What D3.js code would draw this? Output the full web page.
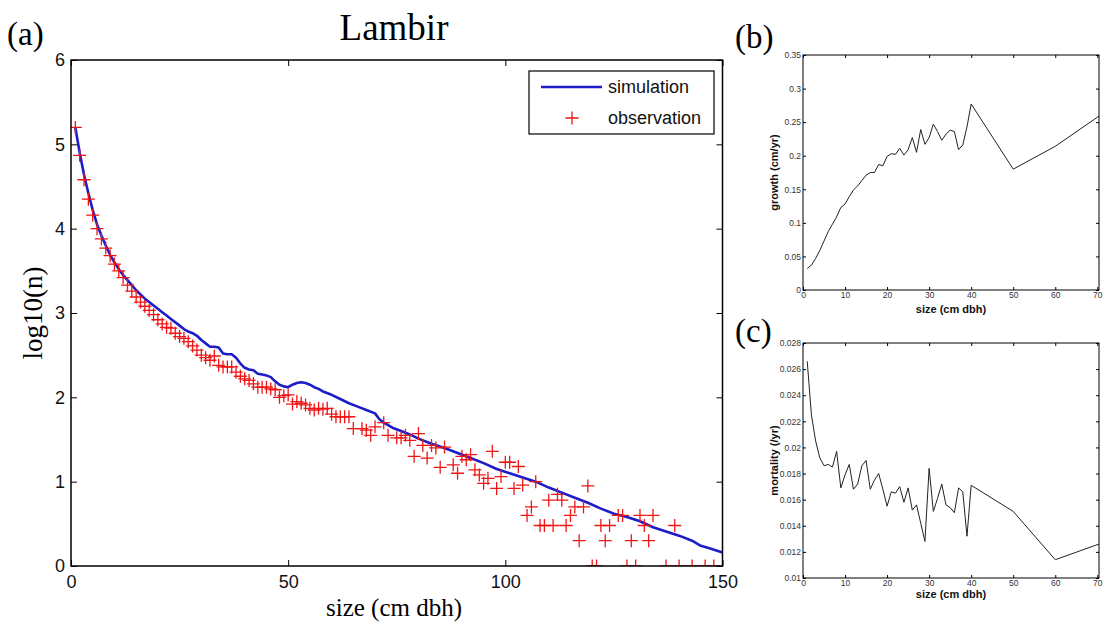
<!DOCTYPE html>
<html><head><meta charset="utf-8">
<script src="https://cdn.jsdelivr.net/npm/d3@7"></script>
<style>body{margin:0;background:#fff} svg{display:block}</style>
</head><body><svg id="c" width="1104" height="624"></svg>
<script>
// ---------- Panel (a) data ----------
const simSize = [1,2,3,4,5,6,7,8,9,10,11,12,13,14,15,16,17,18,19,20,21,22,23,24,25,26,27,28,29,30,31,32,33,34,35,36,37,38,39,40,41,42,43,44,45,46,47,48,49,50,51,52,53,54,55,56,57,58,60,62,64,66,68,70,71,72,74,76,78,80,83,86,89,92,95,98,101,104,107,110,113,116,119,122,125,128,131,134,137,140,143,145,147,150];
const simLog = [5.20,4.90,4.64,4.42,4.22,4.05,3.92,3.80,3.69,3.60,3.52,3.45,3.39,3.33,3.27,3.22,3.17,3.13,3.09,3.05,3.01,2.97,2.93,2.89,2.85,2.81,2.78,2.76,2.73,2.68,2.64,2.60,2.60,2.59,2.52,2.51,2.51,2.47,2.40,2.35,2.33,2.32,2.28,2.27,2.26,2.24,2.19,2.15,2.13,2.12,2.15,2.17,2.18,2.17,2.15,2.12,2.10,2.07,2.03,1.98,1.93,1.89,1.85,1.81,1.74,1.70,1.64,1.60,1.56,1.51,1.45,1.40,1.34,1.28,1.22,1.15,1.10,1.05,1.00,0.93,0.87,0.81,0.75,0.68,0.62,0.58,0.53,0.46,0.41,0.36,0.30,0.24,0.21,0.16];

const obsSize = [1,2,3,4,5,6,7,8,9,10,11,12,13,14,15,16,17,18,19,20,21,22,23,24,25,26,27,28,29,30,31,32,33,34,35,36,37,38,39,40,41,42,43,44,45,46,47,48,49,50,51,52,53,54,55,56,57,58,59,60,61,62,63,64,65,67,68,69,70,72,73,75,76,77,78,79,80,81,82,83,84,85,86,88,89,90,91,92,93,94,95,96,97,98,99,100,101,102,103,104,105,106,107,108,109,110,111,112,113,114,115,116,117,118,119,120,121,122,123,124,126,127,128,129,130,131,132,133,134,137,139,140,143,146,148];
const obsLog = [5.20,4.87,4.58,4.35,4.16,4.00,3.88,3.77,3.68,3.58,3.50,3.42,3.33,3.26,3.19,3.13,3.08,3.03,2.98,2.92,2.87,2.83,2.82,2.76,2.72,2.70,2.66,2.61,2.56,2.50,2.47,2.44,2.49,2.38,2.36,2.36,2.36,2.30,2.25,2.22,2.20,2.16,2.12,2.12,2.12,2.10,2.09,2.00,2.02,2.03,1.92,1.95,1.93,1.91,1.87,1.85,1.87,1.86,1.87,1.80,1.77,1.77,1.77,1.77,1.63,1.63,1.61,1.55,1.65,1.70,1.55,1.52,1.52,1.55,1.49,1.30,1.57,1.43,1.28,1.43,1.40,1.17,1.41,1.20,1.10,1.30,1.26,1.32,1.14,1.08,0.98,1.04,1.36,0.92,1.06,1.23,1.23,0.92,1.18,0.96,0.60,0.70,1.00,0.48,0.48,0.78,0.48,0.85,0.78,0.48,0.60,0.70,0.30,0.70,0.95,0,0,0.48,0.30,0.48,0.60,0.60,0,0.30,0,0.60,0.48,0.30,0.60,0,0.48,0,0,0,0];

const aXTicks = [0,50,100,150];
const aYTicks = [0,1,2,3,4,5,6];
const legendLabels = ["simulation","observation"];

// ---------- Panels (b), (c) data ----------
const dbh = [1,2,3,4,5,6,7,8,9,10,11,12,13,14,15,16,17,18,19,20,21,22,23,24,25,26,27,28,29,30,31,32,33,34,35,36,37,38,39,40,50,60,70.4];
const growth = [0.032,0.037,0.047,0.059,0.073,0.087,0.098,0.109,0.123,0.128,0.139,0.149,0.155,0.163,0.171,0.175,0.175,0.187,0.185,0.199,0.203,0.202,0.211,0.201,0.209,0.227,0.205,0.239,0.217,0.227,0.247,0.236,0.223,0.232,0.238,0.236,0.209,0.216,0.243,0.277,0.180,0.214,0.259];
const mortality = [0.0266,0.0225,0.0205,0.0192,0.0186,0.0187,0.0185,0.0197,0.0169,0.0179,0.0187,0.0168,0.0172,0.0186,0.0190,0.0168,0.0175,0.0180,0.0168,0.0155,0.0166,0.0165,0.0170,0.0158,0.0169,0.0152,0.0156,0.0142,0.0128,0.0184,0.0151,0.0161,0.0172,0.0156,0.0154,0.0150,0.0169,0.0166,0.0132,0.0171,0.0151,0.0114,0.0126];
const bcXTicks = [0,10,20,30,40,50,60,70];
const growthTicks = [0,0.05,0.1,0.15,0.2,0.25,0.3,0.35];
const mortTicks = [0.01,0.012,0.014,0.016,0.018,0.02,0.022,0.024,0.026,0.028];

const svg = d3.select("#c");
const SANS = "'Liberation Sans', Arial, sans-serif";
const SERIF = "'Liberation Serif', 'Times New Roman', serif";

function styleAxis(g, size, color) {
  g.select(".domain").remove();
  g.selectAll(".tick line").attr("stroke", "#000");
  g.selectAll(".tick text").attr("font-family", SANS).attr("font-size", size).attr("fill", color);
}

// ================= Panel (a) =================
const A = {l: 71, r: 722.5, t: 60, b: 566};
const xa = d3.scaleLinear().domain([0,150]).range([A.l, A.r]);
const ya = d3.scaleLinear().domain([0,6]).range([A.b, A.t]);
const intFmt = d3.format("d");

svg.append("defs").append("clipPath").attr("id","clipA")
  .append("rect").attr("x",A.l).attr("y",A.t).attr("width",A.r-A.l).attr("height",A.b-A.t);

svg.append("g").attr("transform",`translate(0,${A.b})`)
  .call(d3.axisBottom(xa).tickValues(aXTicks).tickSize(-6).tickPadding(9).tickFormat(intFmt))
  .call(g => styleAxis(g, 18, "#111"));
svg.append("g").attr("transform",`translate(0,${A.t})`)
  .call(d3.axisTop(xa).tickValues(aXTicks).tickSize(-6).tickFormat(""))
  .call(g => styleAxis(g, 18, "#111"));
svg.append("g").attr("transform",`translate(${A.l},0)`)
  .call(d3.axisLeft(ya).tickValues(aYTicks).tickSize(-6).tickPadding(6).tickFormat(intFmt))
  .call(g => styleAxis(g, 18, "#111"));
svg.append("g").attr("transform",`translate(${A.r},0)`)
  .call(d3.axisRight(ya).tickValues(aYTicks).tickSize(-6).tickFormat(""))
  .call(g => styleAxis(g, 18, "#111"));

const plotA = svg.append("g").attr("clip-path","url(#clipA)");
const simData = simSize.map((s,i)=>[s, simLog[i]]);
plotA.append("path").datum(simData)
  .attr("fill","none").attr("stroke","#1c1cc8").attr("stroke-width",2.6)
  .attr("stroke-linejoin","round")
  .attr("d", d3.line().x(d=>xa(d[0])).y(d=>ya(d[1])));

const cross = "M-6.5,0H6.5M0,-6.5V6.5";
plotA.selectAll("path.obs").data(obsSize.map((s,i)=>[s, obsLog[i]]))
  .join("path").attr("class","obs")
  .attr("transform", d=>`translate(${xa(d[0])},${ya(d[1])})`)
  .attr("d", cross).attr("stroke","#f01414").attr("stroke-width",1.3).attr("fill","none");

svg.append("rect").attr("x",A.l).attr("y",A.t).attr("width",A.r-A.l).attr("height",A.b-A.t)
  .attr("fill","none").attr("stroke","#000").attr("stroke-width",1.5);

// legend
const lg = svg.append("g");
lg.append("rect").attr("x",529).attr("y",71).attr("width",185).attr("height",63)
  .attr("fill","#fff").attr("stroke","#000").attr("stroke-width",1.2);
lg.append("line").attr("x1",541).attr("x2",602).attr("y1",87).attr("y2",87)
  .attr("stroke","#1c1cc8").attr("stroke-width",2.6);
lg.append("path").attr("d",cross).attr("transform","translate(572,118)")
  .attr("stroke","#f01414").attr("stroke-width",1.3);
lg.selectAll("text").data(legendLabels).join("text")
  .attr("x",608).attr("y",(d,i)=>87+31*i).attr("dy","0.35em")
  .attr("font-family",SANS).attr("font-size",18).attr("fill","#111").text(d=>d);

// titles / labels
svg.append("text").attr("x",394).attr("y",40).attr("text-anchor","middle")
  .attr("font-family",SERIF).attr("font-size",37).attr("fill","#000").text("Lambir");
svg.append("text").attr("x",394).attr("y",616).attr("text-anchor","middle")
  .attr("font-family",SERIF).attr("font-size",25).attr("fill","#000").text("size (cm dbh)");
svg.append("text").attr("transform","translate(42,313) rotate(-90)").attr("text-anchor","middle")
  .attr("font-family",SERIF).attr("font-size",27).attr("fill","#000").text("log10(n)");
svg.append("text").attr("x",7).attr("y",45)
  .attr("font-family",SERIF).attr("font-size",33).attr("fill","#000").text("(a)");

// ================= Panels (b) and (c) =================
function smallPanel(box, yDomain, yTicks, yVals, yLabel, tag, tagY, xLabelY) {
  const x = d3.scaleLinear().domain([0,70.4]).range([box.l, box.r]);
  const y = d3.scaleLinear().domain(yDomain).range([box.b, box.t]);
  const fmt = d => String(+d.toFixed(3));
  const fs = 8.5;
  svg.append("g").attr("transform",`translate(0,${box.b})`)
    .call(d3.axisBottom(x).tickValues(bcXTicks).tickSize(-3).tickPadding(2).tickFormat(intFmt))
    .call(g => styleAxis(g, fs, "#333"));
  svg.append("g").attr("transform",`translate(0,${box.t})`)
    .call(d3.axisTop(x).tickValues(bcXTicks).tickSize(-3).tickFormat(""))
    .call(g => styleAxis(g, fs, "#333"));
  svg.append("g").attr("transform",`translate(${box.l},0)`)
    .call(d3.axisLeft(y).tickValues(yTicks).tickSize(-3).tickPadding(2).tickFormat(fmt))
    .call(g => styleAxis(g, fs, "#333"));
  svg.append("g").attr("transform",`translate(${box.r},0)`)
    .call(d3.axisRight(y).tickValues(yTicks).tickSize(-3).tickFormat(""))
    .call(g => styleAxis(g, fs, "#333"));
  svg.append("path").datum(dbh.map((s,i)=>[s, yVals[i]]))
    .attr("fill","none").attr("stroke","#222").attr("stroke-width",1)
    .attr("d", d3.line().x(d=>x(d[0])).y(d=>y(d[1])));
  svg.append("rect").attr("x",box.l).attr("y",box.t).attr("width",box.r-box.l).attr("height",box.b-box.t)
    .attr("fill","none").attr("stroke","#000").attr("stroke-width",1);
  svg.append("text").attr("x",(box.l+box.r)/2).attr("y",xLabelY).attr("text-anchor","middle")
    .attr("font-family",SANS).attr("font-size",11).attr("font-weight","bold").attr("fill","#111")
    .text("size (cm dbh)");
  svg.append("text").attr("transform",`translate(${box.l-25},${(box.t+box.b)/2}) rotate(-90)`)
    .attr("text-anchor","middle")
    .attr("font-family",SANS).attr("font-size",11).attr("font-weight","bold").attr("fill","#111")
    .text(yLabel);
  svg.append("text").attr("x",735).attr("y",tagY)
    .attr("font-family",SERIF).attr("font-size",33).attr("fill","#000").text(tag);
}
smallPanel({l:803, r:1099, t:55, b:290}, [0,0.35], growthTicks, growth, "growth (cm/yr)", "(b)", 48, 313);
smallPanel({l:803, r:1099, t:343, b:578}, [0.01,0.028], mortTicks, mortality, "mortality (/yr)", "(c)", 342, 598);
</script></body></html>
